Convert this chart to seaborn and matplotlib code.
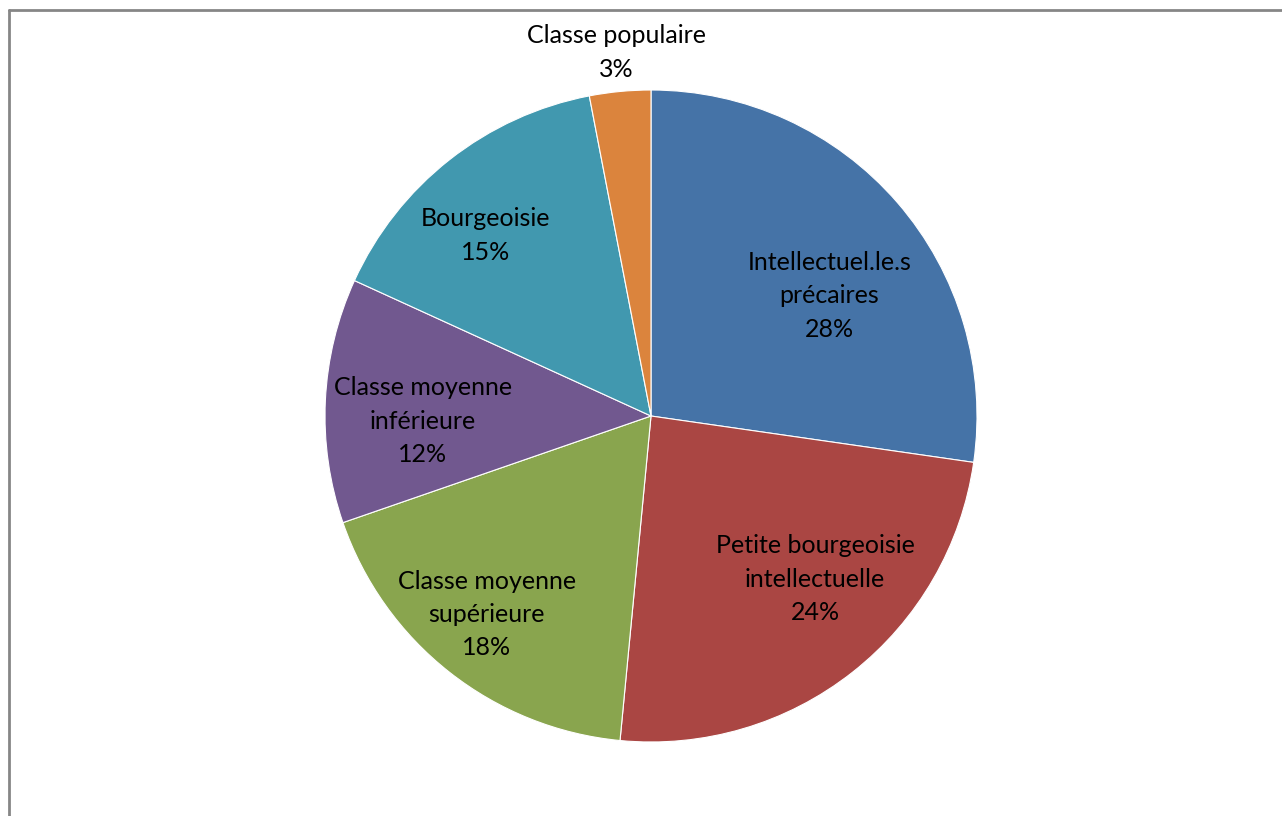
import numpy as np
import matplotlib
matplotlib.use("Agg")
import matplotlib.pyplot as plt
from matplotlib.lines import Line2D
import seaborn as sns

# data (counts out of 33, labels as shown by Excel)
categories = ["Intellectuel.le.s\nprécaires", "Petite bourgeoisie\nintellectuelle",
              "Classe moyenne\nsupérieure", "Classe moyenne\ninférieure",
              "Bourgeoisie", "Classe populaire"]
counts = [9, 8, 6, 4, 5, 1]
pct_labels = ["28%", "24%", "18%", "12%", "15%", "3%"]

colors = sns.color_palette(["#4573A7", "#AA4643", "#89A54E", "#71588F", "#4198AF", "#DB843D"])

# label placement (radius fraction, clockwise angle nudge in degrees)
label_r = [0.66, 0.71, 0.79, 0.70, 0.75, 1.12]
label_nudge = [7, -7, 1.4, -4, -4.3, 0]

sns.set_theme(style="white")
plt.rcParams['font.family'] = ['Lato', 'DejaVu Sans']

W, H = 1282, 816
fig = plt.figure(figsize=(W / 100, H / 100), dpi=100)
cx, cy, R = 651, 416, 326
ax = fig.add_axes([(cx - R) / W, (H - cy - R) / H, 2 * R / W, 2 * R / H])

wedges, _ = ax.pie(counts, colors=colors, startangle=90, counterclock=False,
                   radius=1, wedgeprops=dict(edgecolor="white", linewidth=0.8))
ax.set_xlim(-1, 1)
ax.set_ylim(-1, 1)
ax.set_aspect("equal")
ax.axis("off")

for w, cat, pct, r, nd in zip(wedges, categories, pct_labels, label_r, label_nudge):
    mid = np.deg2rad((w.theta1 + w.theta2) / 2 - nd)
    ax.text(r * np.cos(mid), r * np.sin(mid), cat + "\n" + pct,
            ha="center", va="center", fontsize=18, color="black",
            linespacing=1.55, clip_on=False)

# chart area border (top and left visible)
fig.add_artist(Line2D([9 / W, 1.0], [1 - 9.5 / H, 1 - 9.5 / H], color="#868686",
                      linewidth=2, transform=fig.transFigure))
fig.add_artist(Line2D([9 / W, 9 / W], [0, 1 - 9.5 / H], color="#868686",
                      linewidth=2, transform=fig.transFigure))

fig.savefig("out.png", dpi=100, facecolor="white")
